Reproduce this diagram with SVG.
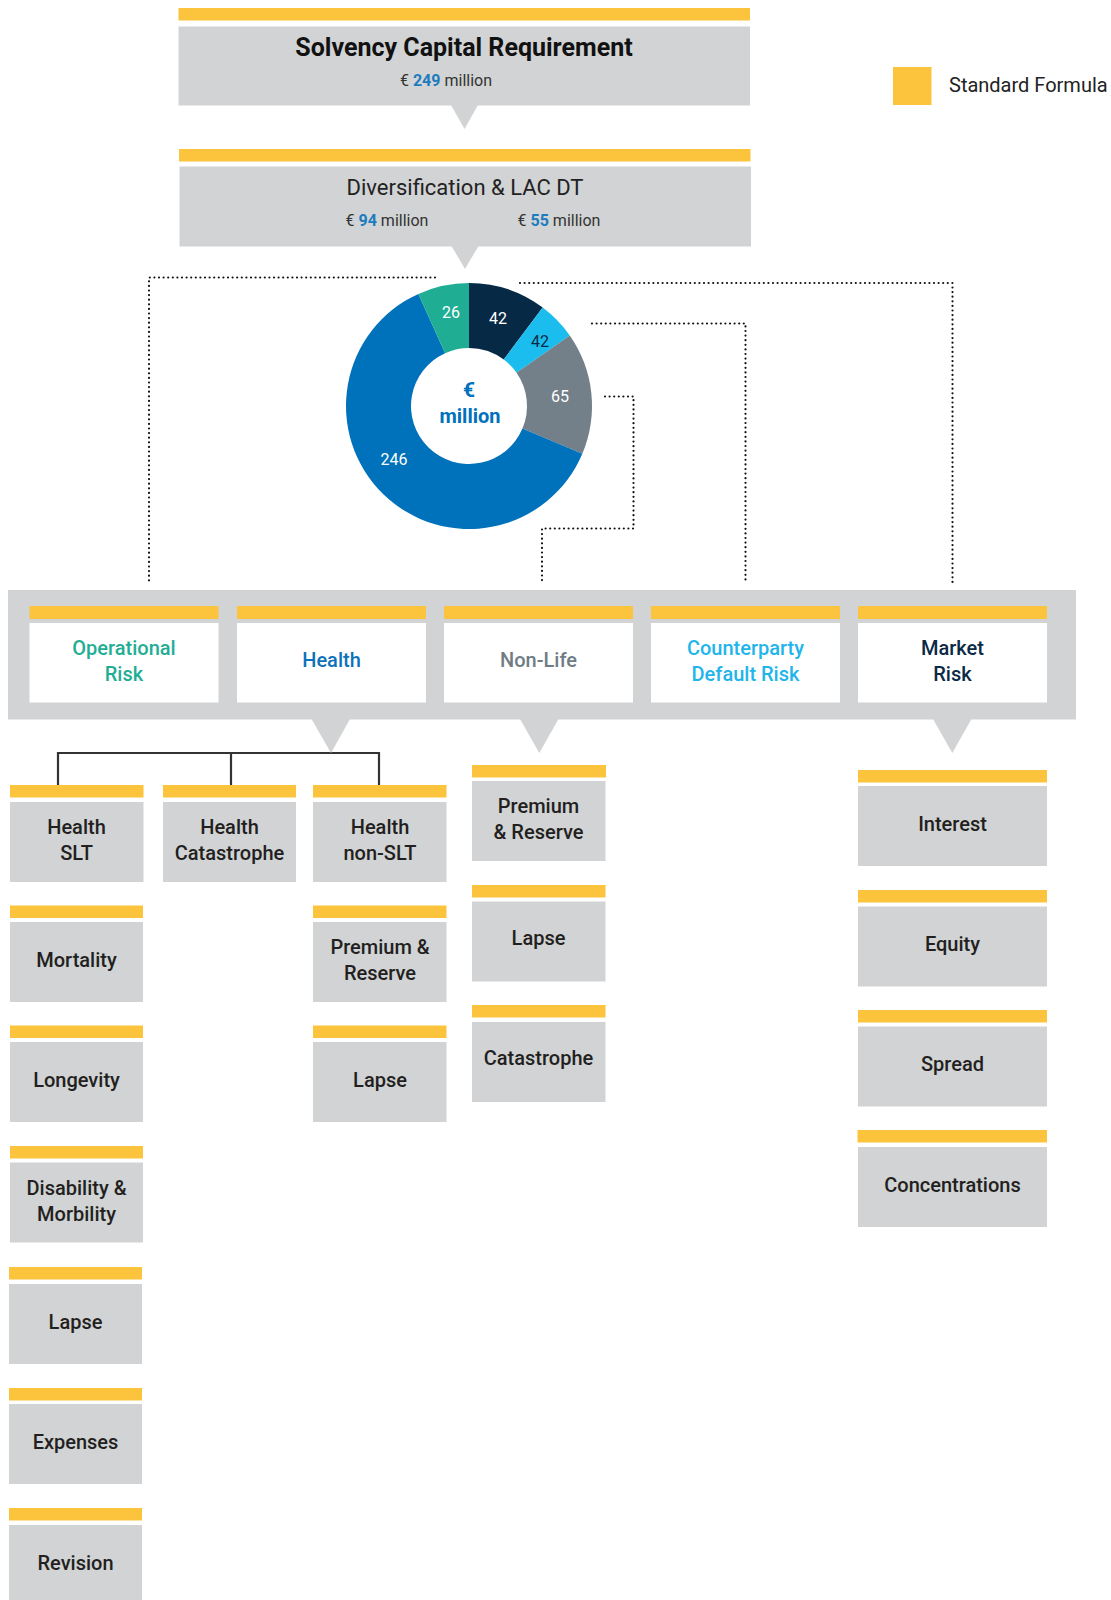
<svg xmlns="http://www.w3.org/2000/svg" width="1111" height="1600" viewBox="0 0 1111 1600">
  <style>
    text { font-family: Roboto, "Liberation Sans", sans-serif; }
    .bar { fill: #fcc43c; }
    .box { fill: #d1d3d4; }
    .white { fill: #ffffff; }
    .title { font-size: 25px; font-weight: 700; fill: #111; text-anchor: middle; }
    .sub { font-size: 22px; font-weight: 400; fill: #222; text-anchor: middle; }
    .amt { font-size: 16px; fill: #333; text-anchor: middle; }
    .amt tspan.n { font-weight: 700; fill: #1d7cc0; }
    .risk { font-size: 20px; font-weight: 500; text-anchor: middle; }
    .lbl { font-size: 20px; font-weight: 500; fill: #231f20; text-anchor: middle; }
    .num { font-size: 16px; fill: #ffffff; text-anchor: middle; }
    .dots { fill: none; stroke: #111; stroke-width: 2.2; stroke-linecap: round; stroke-dasharray: 0 4.6; }
    .tree { fill: none; stroke: #333; stroke-width: 2.2; }
  </style>

  <!-- Legend -->
  <g id="legend">
    <rect class="bar" x="893" y="67" width="38.5" height="38"/>
    <text x="949" y="92" font-size="20" fill="#222">Standard Formula</text>
  </g>

  <!-- Solvency Capital Requirement -->
  <g id="scr">
    <rect class="bar" x="178.5" y="8" width="571.5" height="12.5"/>
    <rect class="box" x="178.5" y="26.5" width="571.5" height="79"/>
    <polygon class="box" points="451,105 478,105 464.5,129"/>
    <text class="title" x="464" y="56">Solvency Capital Requirement</text>
    <text class="amt" x="446" y="86">€ <tspan class="n">249</tspan> million</text>
  </g>

  <!-- Diversification & LAC DT -->
  <g id="diversification">
    <rect class="bar" x="179" y="149" width="571.5" height="12.5"/>
    <rect class="box" x="179.5" y="166.5" width="571.5" height="80"/>
    <polygon class="box" points="451.5,246 478.5,246 465,269"/>
    <text class="sub" x="465" y="195">Diversification &amp; LAC DT</text>
    <text class="amt" x="387" y="226">€ <tspan class="n">94</tspan> million</text>
    <text class="amt" x="559" y="226">€ <tspan class="n">55</tspan> million</text>
  </g>

  <!-- Donut chart of risk modules -->
  <g id="donut">
    <path fill="#062a45" d="M469,283 A123,123 0 0 1 542.68,307.51 L503.74,359.56 A58,58 0 0 0 469,348 Z"/>
    <path fill="#1bbdee" d="M542.68,307.51 A123,123 0 0 1 569.76,335.45 L516.51,372.73 A58,58 0 0 0 503.74,359.56 Z"/>
    <path fill="#738089" d="M569.76,335.45 A123,123 0 0 1 582.31,453.86 L522.43,428.57 A58,58 0 0 0 516.51,372.73 Z"/>
    <path fill="#0071bb" d="M582.31,453.86 A123,123 0 1 1 418.39,293.90 L445.13,353.14 A58,58 0 1 0 522.43,428.57 Z"/>
    <path fill="#1fae94" d="M418.39,293.90 A123,123 0 0 1 469,283 L469,348 A58,58 0 0 0 445.13,353.14 Z"/>
    <text class="num" x="451" y="318">26</text>
    <text class="num" x="498" y="324">42</text>
    <text class="num" x="540" y="347" style="fill:#062a45">42</text>
    <text class="num" x="560" y="402">65</text>
    <text class="num" x="394" y="465">246</text>
    <text x="469" y="397" font-size="21" font-weight="700" fill="#0071bb" text-anchor="middle">€</text>
    <text x="470" y="423" font-size="20" font-weight="700" fill="#0071bb" text-anchor="middle">million</text>
  </g>

  <!-- Connectors -->
  <g id="connectors">
    <path class="dots" d="M435,277.5 H149 V583"/>
    <path class="dots" d="M520,283 H952.5 V583"/>
    <path class="dots" d="M592,323.5 H745.5 V583"/>
    <path class="dots" d="M605,396.5 H633.5 V528.5 H542 V583"/>
    <path class="tree" d="M58,785 V753 H379 V785 M231,753 V785"/>
  </g>

  <!-- Risk module container -->
  <g id="modules">
    <rect class="box" x="8" y="590" width="1068" height="129.5"/>
    <polygon class="box" points="311.5,719 350,719 331,753"/>
    <polygon class="box" points="520,719 558.5,719 539.3,753"/>
    <polygon class="box" points="933,719 971.5,719 952.3,753"/>
  </g>

  <g id="operational-risk">
    <rect class="bar" x="29.5" y="606" width="189" height="13"/>
    <rect class="white" x="29.5" y="623" width="189" height="79.5"/>
    <text class="risk" fill="#1fae94" x="124" y="655">Operational</text>
    <text class="risk" fill="#1fae94" x="124" y="681">Risk</text>
  </g>
  <g id="health">
    <rect class="bar" x="237" y="606" width="189" height="13"/>
    <rect class="white" x="237" y="623" width="189" height="79.5"/>
    <text class="risk" fill="#0d72b9" x="331.5" y="667">Health</text>
  </g>
  <g id="non-life">
    <rect class="bar" x="444" y="606" width="189" height="13"/>
    <rect class="white" x="444" y="623" width="189" height="79.5"/>
    <text class="risk" fill="#6f7c85" x="538.5" y="667">Non-Life</text>
  </g>
  <g id="counterparty-default-risk">
    <rect class="bar" x="651" y="606" width="189" height="13"/>
    <rect class="white" x="651" y="623" width="189" height="79.5"/>
    <text class="risk" fill="#22b5ea" x="745.5" y="655">Counterparty</text>
    <text class="risk" fill="#22b5ea" x="745.5" y="681">Default Risk</text>
  </g>
  <g id="market-risk">
    <rect class="bar" x="858" y="606" width="189" height="13"/>
    <rect class="white" x="858" y="623" width="189" height="79.5"/>
    <text class="risk" fill="#0b2a45" x="952.5" y="655">Market</text>
    <text class="risk" fill="#0b2a45" x="952.5" y="681">Risk</text>
  </g>

  <!-- Health sub-modules: column 1 -->
  <g id="health-slt">
    <rect class="bar" x="10" y="785" width="133.5" height="12.5"/>
    <rect class="box" x="10" y="802" width="133.5" height="80"/>
    <text class="lbl" x="76.5" y="834">Health</text>
    <text class="lbl" x="76.5" y="860">SLT</text>
  </g>
  <g id="mortality">
    <rect class="bar" x="10" y="905.5" width="133" height="12.5"/>
    <rect class="box" x="10" y="922" width="133" height="80"/>
    <text class="lbl" x="76.5" y="967">Mortality</text>
  </g>
  <g id="longevity">
    <rect class="bar" x="10" y="1025.5" width="133" height="12.5"/>
    <rect class="box" x="10" y="1042" width="133" height="80"/>
    <text class="lbl" x="76.5" y="1087">Longevity</text>
  </g>
  <g id="disability-morbility">
    <rect class="bar" x="10" y="1146" width="133" height="12.5"/>
    <rect class="box" x="10" y="1162.5" width="133" height="80"/>
    <text class="lbl" x="76.5" y="1195">Disability &amp;</text>
    <text class="lbl" x="76.5" y="1221">Morbility</text>
  </g>
  <g id="health-lapse">
    <rect class="bar" x="9" y="1267" width="133" height="12.5"/>
    <rect class="box" x="9" y="1284" width="133" height="80"/>
    <text class="lbl" x="75.5" y="1329">Lapse</text>
  </g>
  <g id="expenses">
    <rect class="bar" x="9" y="1388" width="133" height="12.5"/>
    <rect class="box" x="9" y="1404" width="133" height="80"/>
    <text class="lbl" x="75.5" y="1449">Expenses</text>
  </g>
  <g id="revision">
    <rect class="bar" x="9" y="1508" width="133" height="12.5"/>
    <rect class="box" x="9" y="1525" width="133" height="80"/>
    <text class="lbl" x="75.5" y="1570">Revision</text>
  </g>

  <!-- Health sub-modules: column 2 -->
  <g id="health-catastrophe">
    <rect class="bar" x="163" y="785" width="133" height="12.5"/>
    <rect class="box" x="163" y="802" width="133" height="80"/>
    <text class="lbl" x="229.5" y="834">Health</text>
    <text class="lbl" x="229.5" y="860">Catastrophe</text>
  </g>

  <!-- Health sub-modules: column 3 -->
  <g id="health-non-slt">
    <rect class="bar" x="313" y="785" width="133.5" height="12.5"/>
    <rect class="box" x="313" y="802" width="133.5" height="80"/>
    <text class="lbl" x="380" y="834">Health</text>
    <text class="lbl" x="380" y="860">non-SLT</text>
  </g>
  <g id="health-premium-reserve">
    <rect class="bar" x="313" y="905.5" width="133.5" height="12.5"/>
    <rect class="box" x="313" y="922" width="133.5" height="80"/>
    <text class="lbl" x="380" y="954">Premium &amp;</text>
    <text class="lbl" x="380" y="980">Reserve</text>
  </g>
  <g id="health-non-slt-lapse">
    <rect class="bar" x="313" y="1025.5" width="133.5" height="12.5"/>
    <rect class="box" x="313" y="1042" width="133.5" height="80"/>
    <text class="lbl" x="380" y="1087">Lapse</text>
  </g>

  <!-- Non-Life sub-modules -->
  <g id="nl-premium-reserve">
    <rect class="bar" x="472" y="765" width="134" height="12.5"/>
    <rect class="box" x="472" y="781" width="133.5" height="80"/>
    <text class="lbl" x="538.5" y="813">Premium</text>
    <text class="lbl" x="538.5" y="839">&amp; Reserve</text>
  </g>
  <g id="nl-lapse">
    <rect class="bar" x="472" y="885" width="133.5" height="12.5"/>
    <rect class="box" x="472" y="901.5" width="133.5" height="80"/>
    <text class="lbl" x="538.5" y="945">Lapse</text>
  </g>
  <g id="nl-catastrophe">
    <rect class="bar" x="472" y="1005" width="133.5" height="12.5"/>
    <rect class="box" x="472" y="1022" width="133.5" height="80"/>
    <text class="lbl" x="538.5" y="1065">Catastrophe</text>
  </g>

  <!-- Market sub-modules -->
  <g id="interest">
    <rect class="bar" x="858" y="770" width="189" height="12.5"/>
    <rect class="box" x="858" y="786" width="189" height="80"/>
    <text class="lbl" x="952.5" y="831">Interest</text>
  </g>
  <g id="equity">
    <rect class="bar" x="858" y="890" width="189" height="12.5"/>
    <rect class="box" x="858" y="906.5" width="189" height="80"/>
    <text class="lbl" x="952.5" y="951">Equity</text>
  </g>
  <g id="spread">
    <rect class="bar" x="858" y="1010" width="189" height="12.5"/>
    <rect class="box" x="858" y="1026.5" width="189" height="80"/>
    <text class="lbl" x="952.5" y="1071">Spread</text>
  </g>
  <g id="concentrations">
    <rect class="bar" x="857.5" y="1130" width="189.5" height="12.5"/>
    <rect class="box" x="858" y="1147" width="189" height="80"/>
    <text class="lbl" x="952.5" y="1192">Concentrations</text>
  </g>
</svg>
